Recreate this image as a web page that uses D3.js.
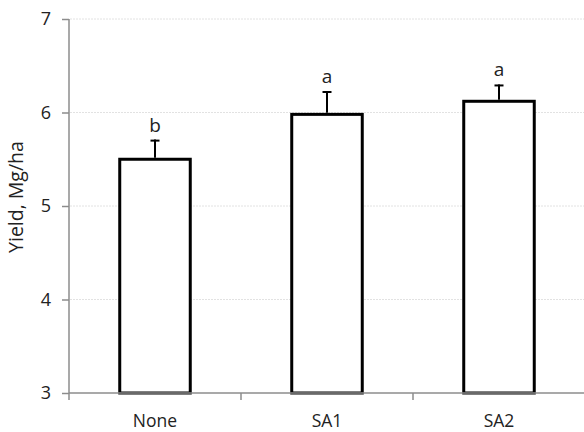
<!DOCTYPE html>
<html>
<head>
<meta charset="utf-8">
<script src="https://cdn.jsdelivr.net/npm/d3@7/dist/d3.min.js"></script>
<style>
  body { margin: 0; background: #fff; }
  svg { display: block; }
  text { font-family: "Open Sans", "Noto Sans", sans-serif; fill: #222; }
</style>
</head>
<body>
<svg id="chart" width="584" height="432"></svg>
<script>
// Yield by treatment, with error bar tops and significance letters
const categories = ["None", "SA1", "SA2"];
const yields = [5.50, 5.98, 6.12];
const errorTops = [5.71, 6.23, 6.30];
const letters = ["b", "a", "a"];
const yTicks = [3, 4, 5, 6, 7];

const svg = d3.select("#chart");
const margin = { top: 19, right: 0, bottom: 39, left: 69 };
const W = 584, H = 432;
const FONT = "\"Open Sans\", \"Noto Sans\", sans-serif";

const x = d3.scaleBand()
  .domain(categories)
  .range([margin.left, W - margin.right + 1])
  .paddingInner(0.59)
  .paddingOuter(0.295);

const y = d3.scaleLinear().domain([3, 7]).range([H - margin.bottom, margin.top]);

// dotted gridlines
svg.append("g")
  .selectAll("line")
  .data(yTicks.slice(1))
  .join("line")
  .attr("x1", margin.left + 1)
  .attr("x2", W)
  .attr("y1", d => y(d))
  .attr("y2", d => y(d))
  .attr("stroke", "#e2e2e2")
  .attr("stroke-width", 1)
  .attr("stroke-dasharray", "2,1");

// bars
svg.append("g")
  .selectAll("rect")
  .data(categories)
  .join("rect")
  .attr("x", d => x(d))
  .attr("width", x.bandwidth())
  .attr("y", (d, i) => y(yields[i]))
  .attr("height", (d, i) => y(3) - y(yields[i]))
  .attr("fill", "#fff")
  .attr("stroke", "#000")
  .attr("stroke-width", 3);

// error bars
const eb = svg.append("g");
categories.forEach((c, i) => {
  const cx = x(c) + x.bandwidth() / 2;
  eb.append("line")
    .attr("x1", cx).attr("x2", cx)
    .attr("y1", y(yields[i]) - 1.5).attr("y2", y(errorTops[i]))
    .attr("stroke", "#000").attr("stroke-width", 2);
  eb.append("line")
    .attr("x1", cx - 4.5).attr("x2", cx + 4.5)
    .attr("y1", y(errorTops[i]) + 1).attr("y2", y(errorTops[i]) + 1)
    .attr("stroke", "#000").attr("stroke-width", 2);
  eb.append("text")
    .attr("x", cx)
    .attr("y", y(errorTops[i]) - 8)
    .attr("text-anchor", "middle")
    .attr("font-size", 19)
    .text(letters[i]);
});

// y axis
const yAxis = svg.append("g")
  .attr("transform", `translate(${margin.left},0)`)
  .call(d3.axisLeft(y).tickValues(yTicks).tickSize(7).tickPadding(11).tickFormat(d3.format("d")));
yAxis.select(".domain").attr("stroke", "#8c8c8c").attr("stroke-width", 1.5)
  .attr("d", `M0,${y(7)}V${y(3) + 7}`);
yAxis.selectAll(".tick line").attr("stroke", "#8c8c8c").attr("stroke-width", 1.5);
yAxis.selectAll(".tick text").attr("font-size", 18).attr("fill", "#222")
  .attr("font-family", FONT);

// x axis
const xAxis = svg.append("g")
  .attr("transform", `translate(0,${y(3)})`);
xAxis.append("line")
  .attr("x1", margin.left).attr("x2", W)
  .attr("y1", 0).attr("y2", 0)
  .attr("stroke", "#8c8c8c").attr("stroke-width", 1.5);
const boundaries = categories.slice(1).map(c => x(c) - x.step() * x.paddingInner() / 2);
xAxis.selectAll("line.sep")
  .data(boundaries)
  .join("line")
  .attr("class", "sep")
  .attr("x1", d => d).attr("x2", d => d)
  .attr("y1", 0).attr("y2", 7)
  .attr("stroke", "#8c8c8c").attr("stroke-width", 1.5);
xAxis.selectAll("text")
  .data(categories)
  .join("text")
  .attr("x", d => x(d) + x.bandwidth() / 2)
  .attr("y", 34)
  .attr("text-anchor", "middle")
  .attr("font-size", 17.5)
  .text(d => d);

// y axis title
svg.append("text")
  .attr("transform", `translate(23,197) rotate(-90)`)
  .attr("text-anchor", "middle")
  .attr("font-size", 19.5)
  .attr("fill", "#333")
  .text("Yield, Mg/ha");
</script>
</body>
</html>
